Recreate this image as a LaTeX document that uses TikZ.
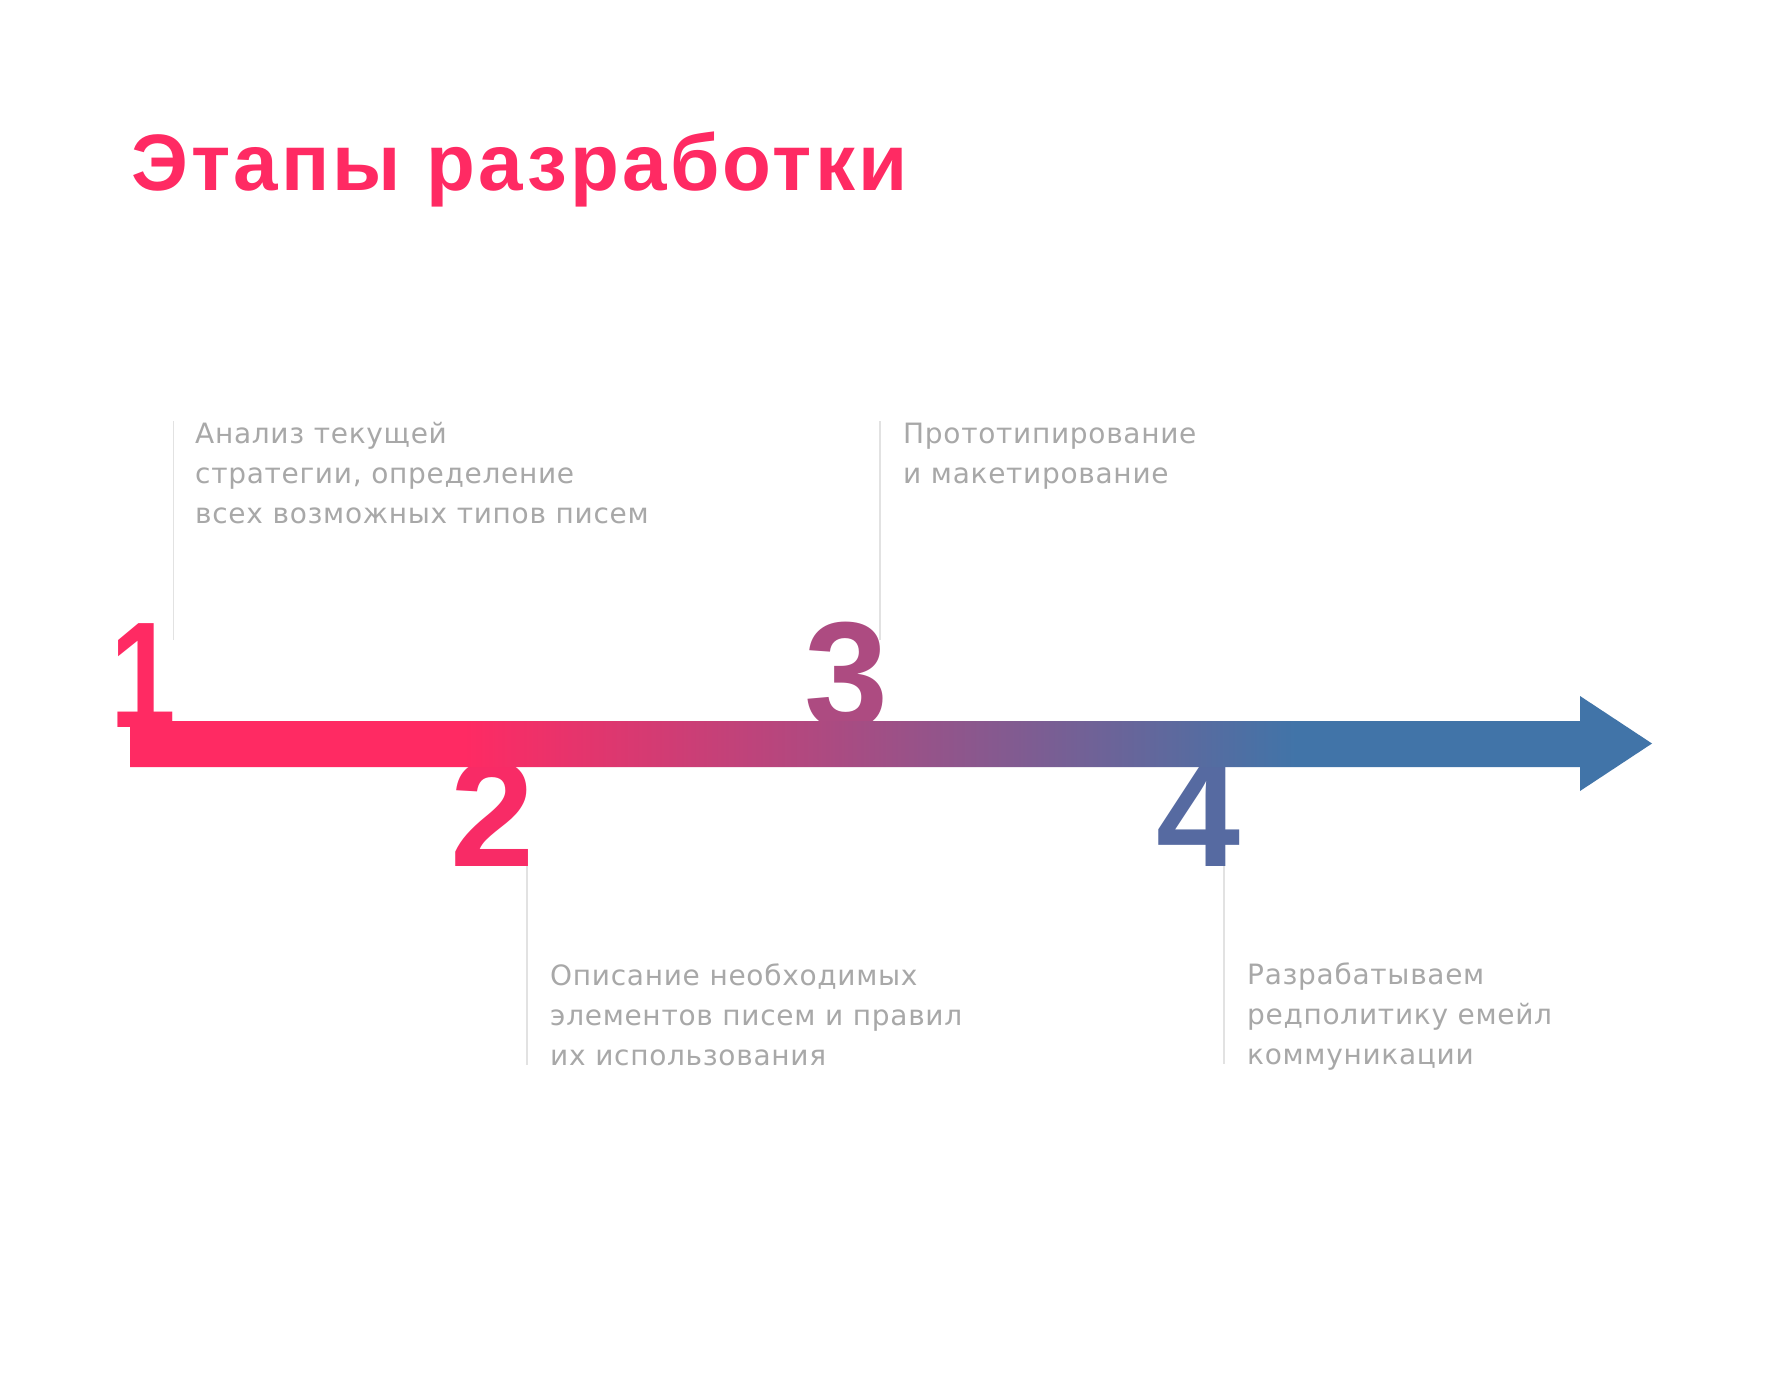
\documentclass[tikz,border=0pt]{standalone}
\usepackage{fontspec}
\setmainfont{DejaVu Sans}
\newfontfamily\headfont{Liberation Sans}
\newfontfamily\titlefont{Liberation Sans}[LetterSpace=4]
\newfontfamily\bodyfont{DejaVu Sans}[LetterSpace=2.5]
\definecolor{cpink}{HTML}{FF2A63}
\definecolor{cblue}{HTML}{4174A8}
\definecolor{cmid}{HTML}{AD4B81}
\definecolor{cdtwo}{HTML}{F82B66}
\definecolor{cdfour}{HTML}{566AA1}
\definecolor{cgrey}{HTML}{A8A8A8}
\definecolor{cline}{HTML}{E2E2E2}
\pgfdeclarehorizontalshading{barshade}{100bp}{color(0bp)=(cpink); color(36bp)=(cpink); color(63.3bp)=(cblue); color(100bp)=(cblue)}
\tikzset{
  digit/.style={inner sep=0pt, anchor=base east, font=\headfont\bfseries\fontsize{151}{151}\selectfont},
  body/.style={inner sep=0pt, anchor=base west, text=cgrey, font=\bodyfont\fontsize{28}{40}\selectfont},
  vline/.style={draw=cline, line width=1.5pt}
}
\begin{document}
\begin{tikzpicture}[x=1pt,y=-1pt]
\useasboundingbox (0,0) rectangle (1782,1386);
\fill[white] (0,0) rectangle (1782,1386);
% title
\node[inner sep=0pt, anchor=base west, text=cpink, font=\titlefont\bfseries\fontsize{80}{80}\selectfont] (title) at (131,190) {Этапы разработки};
% vertical guide lines
\coordinate (l1a) at (173.5,421); \coordinate (l1b) at (173.5,640);
\coordinate (l3a) at (880,421);   \coordinate (l3b) at (880,640);
\coordinate (l2a) at (527,850);   \coordinate (l2b) at (527,1065);
\coordinate (l4a) at (1224,850);  \coordinate (l4b) at (1224,1064);
\draw[vline] (l1a) -- (l1b);
\draw[vline] (l3a) -- (l3b);
\draw[vline] (l2a) -- (l2b);
\draw[vline] (l4a) -- (l4b);
% digits
\node[digit, text=cpink]  (d1) at (176,727) {\scalebox{0.78}[1]{1}};
\node[digit, text=cmid]   (d3) at (889,727) {3};
\node[digit, text=cdtwo]  (d2) at (535,866) {2};
\node[digit, text=cdfour] (d4) at (1241,866) {4};
% timeline arrow
\shade[shading=barshade] (130,721) -- (1580,721) -- (1580,696) -- (1652,743.5) -- (1580,791) -- (1580,767) -- (130,767) -- cycle;
% texts
\node[body] (t1) at (195,443) {\vtop{\hbox{Анализ текущей}\hbox{стратегии, определение}\hbox{всех возможных типов писем}}};
\node[body] (t3) at (903,443) {\vtop{\hbox{Прототипирование}\hbox{и макетирование}}};
\node[body] (t2) at (550,985) {\vtop{\hbox{Описание необходимых}\hbox{элементов писем и правил}\hbox{их использования}}};
\node[body] (t4) at (1247,984) {\vtop{\hbox{Разрабатываем}\hbox{редполитику емейл}\hbox{коммуникации}}};
\end{tikzpicture}
\end{document}
